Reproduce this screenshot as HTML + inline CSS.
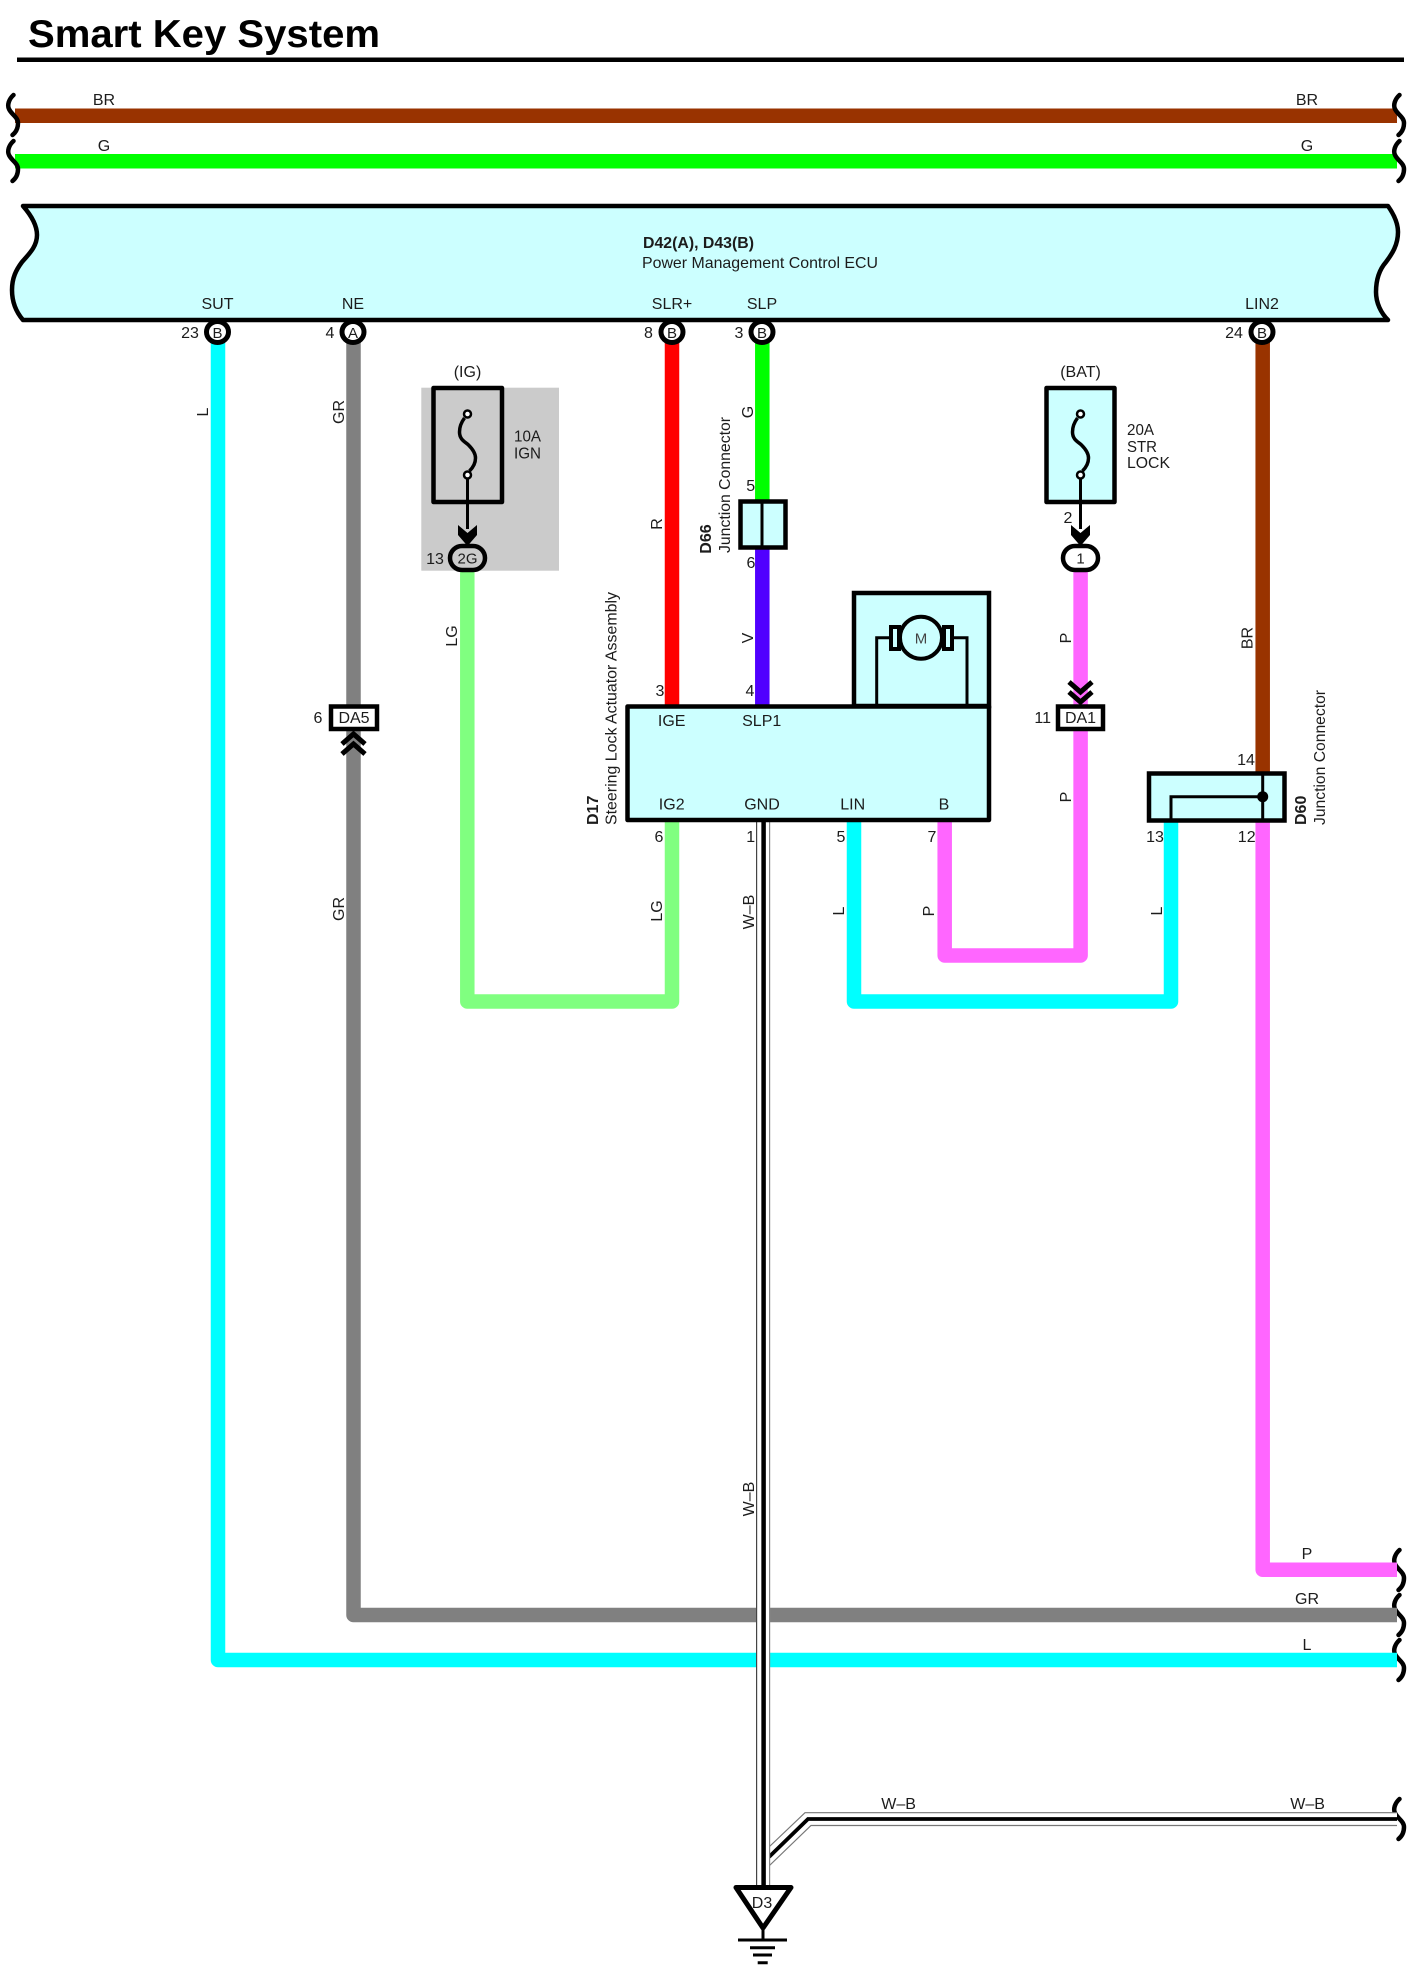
<!DOCTYPE html>
<html><head><meta charset="utf-8"><style>
html,body{margin:0;padding:0;background:#fff}
svg{display:block;filter:blur(.35px)}
text{font-family:"Liberation Sans",Arial,sans-serif;font-size:16px;fill:#1c1c1c;text-anchor:middle}
.b{font-weight:bold}
.s{text-anchor:start}
.w{fill:none;stroke-width:14.5;stroke-linejoin:round;stroke-linecap:butt}
.k{fill:none;stroke:#000;stroke-width:4.5;stroke-linejoin:round}
.t{fill:none;stroke:#000;stroke-width:3}
.q{fill:none;stroke:#000;stroke-width:4.5;stroke-linecap:round}
</style></head><body>
<svg width="1417" height="1980" viewBox="0 0 1417 1980" xmlns="http://www.w3.org/2000/svg">
<defs>
<path id="sq" d="M5.5,2 C1,6 -1,12 1,16 C3,21 10,24 10,30 C10,36 7,40 4.5,42"/>
<g id="fuse">
<path d="M-3,4 C-6,8 -8,13 -8,18 C-8,26 -2,28 1,31 C5,35 8,39 8,44 C8,50 5,54 2,57" fill="none" stroke="#000" stroke-width="3.5"/>
<circle cx="0" cy="0" r="3.5" fill="#fff" stroke="#000" stroke-width="2.5"/>
<circle cx="0" cy="61" r="3.5" fill="#fff" stroke="#000" stroke-width="2.5"/>
<path class="t" d="M0,65 V115"/>
<path d="M-9.5,111 L0,119 L9.5,111 V121 L0,132 L-9.5,121Z" fill="#000"/>
</g>
</defs>

<text class="b s" x="28" y="47" style="font-size:39px;fill:#000" textLength="352" lengthAdjust="spacingAndGlyphs">Smart Key System</text>
<rect x="17" y="57.5" width="1387" height="4.5" fill="#000"/>

<!-- top bus wires -->
<rect x="15" y="108.5" width="1382" height="14.5" fill="#993300"/>
<rect x="15" y="154" width="1382" height="14.5" fill="#00ff00"/>
<text x="104" y="105">BR</text><text x="1307" y="105">BR</text>
<text x="104" y="151">G</text><text x="1307" y="151">G</text>
<g class="q">
<use href="#sq" x="8" y="93"/><use href="#sq" x="8" y="139"/>
<use href="#sq" x="1394" y="93"/><use href="#sq" x="1394" y="139"/>
<use href="#sq" x="1394" y="1548"/><use href="#sq" x="1394" y="1593"/><use href="#sq" x="1394" y="1638"/>
<use href="#sq" x="1394" y="1797"/>
</g>

<!-- vertical / routed wires -->
<path class="w" stroke="#00ffff" d="M218,340 V1660 H1397"/>
<path class="w" stroke="#808080" d="M353.5,340 V1615 H1397"/>
<path class="w" stroke="#ff0000" d="M672,340 V706"/>
<path class="w" stroke="#00ff00" d="M762.3,340 V500"/>
<path class="w" stroke="#5000ff" d="M762.3,548 V706"/>
<path class="w" stroke="#993300" d="M1262.7,340 V773"/>
<path class="w" stroke="#80ff80" d="M467.3,570 V1001.5 H672 V820"/>
<path class="w" stroke="#00ffff" d="M854,820 V1001.5 H1171 V820"/>
<path class="w" stroke="#ff66ff" d="M944.7,820 V955.5 H1080.6 V570"/>
<path class="w" stroke="#ff66ff" d="M1262.7,820 V1569.7 H1397"/>

<!-- ground wire -->
<path d="M769,1847 L805,1812.7 H1397 V1825.5 H811 L769,1866Z" fill="#fff"/>
<path d="M769,1847 L805,1812.7 H1397 M1397,1825.5 H811 L769,1866" fill="none" stroke="#777" stroke-width="1.2"/>
<path d="M769,1857 L808,1819 H1397" fill="none" stroke="#000" stroke-width="3.8"/>
<rect x="756.6" y="822" width="13" height="1065" fill="#fff"/>
<path d="M756.6,822 V1887" stroke="#444" stroke-width="1.2" fill="none"/>
<path d="M769.6,822 V1887" stroke="#888" stroke-width="1.2" fill="none"/>
<path d="M763.6,822 V1887" stroke="#000" stroke-width="4.5" fill="none"/>

<!-- ECU -->
<path d="M23,206 H1388 C1395,216 1398,224 1398,232 C1398,245 1392,254 1386,262 C1379,270 1376,280 1376,292 C1376,303 1381,313 1388,320 H23 C17,313 12,303 12,290 C12,278 16,270 22,262 C30,253 37,246 37,235 C37,224 30,214 23,206Z" fill="#ccffff" stroke="#000" stroke-width="4.5" stroke-linejoin="round"/>
<text class="b s" x="643" y="248" textLength="111" lengthAdjust="spacingAndGlyphs">D42(A), D43(B)</text>
<text class="s" x="642" y="268" textLength="236" lengthAdjust="spacingAndGlyphs">Power Management Control ECU</text>
<text x="217.5" y="309">SUT</text><text x="353" y="309">NE</text><text x="672" y="309">SLR+</text><text x="762" y="309">SLP</text><text x="1262" y="309">LIN2</text>

<!-- pins -->
<g fill="#fff" stroke="#000" stroke-width="5">
<ellipse cx="217.5" cy="332" rx="11" ry="10.5"/><ellipse cx="353" cy="332" rx="11" ry="10.5"/><ellipse cx="672" cy="332" rx="11" ry="10.5"/><ellipse cx="762" cy="332" rx="11" ry="10.5"/><ellipse cx="1262" cy="332" rx="11" ry="10.5"/>
</g>
<text x="217.5" y="338" style="font-size:15px">B</text><text x="353" y="338" style="font-size:15px">A</text><text x="672" y="338" style="font-size:15px">B</text><text x="762" y="338" style="font-size:15px">B</text><text x="1262" y="338" style="font-size:15px">B</text>
<text x="190" y="338">23</text><text x="330" y="338">4</text><text x="648.5" y="338">8</text><text x="739" y="338">3</text><text x="1234" y="338">24</text>

<!-- IG fuse -->
<rect x="421.3" y="387.7" width="137.7" height="183" fill="#cbcbcb"/>
<rect x="433.5" y="388" width="68.5" height="114" class="k"/>
<use href="#fuse" x="467.5" y="414"/>
<rect x="450" y="546" width="35" height="24" rx="12" fill="#cbcbcb" stroke="#000" stroke-width="4.5"/>
<text x="467.5" y="563.5" style="font-size:15px">2G</text>
<text x="435" y="564">13</text>
<text x="467.5" y="377">(IG)</text>
<text class="s" x="514" y="441.5" textLength="27" lengthAdjust="spacingAndGlyphs">10A</text>
<text class="s" x="514" y="458.5" textLength="27" lengthAdjust="spacingAndGlyphs">IGN</text>

<!-- BAT fuse -->
<rect x="1046.5" y="388" width="68" height="114" fill="#ccffff" stroke="#000" stroke-width="4.5" stroke-linejoin="round"/>
<use href="#fuse" x="1080.5" y="414"/>
<rect x="1063" y="546" width="35" height="24" rx="12" fill="#fff" stroke="#000" stroke-width="4.5"/>
<text x="1080.5" y="563.5" style="font-size:15px">1</text>
<text x="1068" y="523">2</text>
<text x="1080.5" y="377">(BAT)</text>
<text class="s" x="1127" y="435" textLength="27" lengthAdjust="spacingAndGlyphs">20A</text>
<text class="s" x="1127" y="452" textLength="30" lengthAdjust="spacingAndGlyphs">STR</text>
<text class="s" x="1127" y="468" textLength="43" lengthAdjust="spacingAndGlyphs">LOCK</text>

<!-- D66 -->
<rect x="740.5" y="501.5" width="45" height="46" fill="#ccffff" stroke="#000" stroke-width="4.5"/>
<path d="M762,501 V548" stroke="#000" stroke-width="3"/>
<text x="750.7" y="491">5</text><text x="751" y="568">6</text>
<text transform="rotate(-90 730 485)" x="730" y="485" textLength="136" lengthAdjust="spacingAndGlyphs">Junction Connector</text>
<text class="b" transform="rotate(-90 711 539)" x="711" y="539">D66</text>

<!-- motor box + D17 -->
<rect x="854" y="593" width="135" height="113" fill="#ccffff" stroke="#000" stroke-width="4.5"/>
<path class="t" d="M876.7,706 V637.7 H890 M953,637.7 H967 V706"/>
<rect x="891" y="627" width="8" height="22" fill="#ccffff" stroke="#000" stroke-width="4"/>
<rect x="944" y="627" width="8" height="22" fill="#ccffff" stroke="#000" stroke-width="4"/>
<circle cx="921" cy="637.7" r="21" fill="#ccffff" stroke="#000" stroke-width="4"/>
<text x="921" y="643.5" style="font-size:15px;fill:#444">M</text>
<rect x="627.5" y="706.5" width="361.5" height="113.5" fill="#ccffff" stroke="#000" stroke-width="4.5" stroke-linejoin="round"/>
<text x="671.7" y="726">IGE</text><text x="761.7" y="726">SLP1</text>
<text x="671.7" y="809.5">IG2</text><text x="762" y="809.5">GND</text><text x="852.7" y="809.5">LIN</text><text x="944" y="809.5">B</text>
<text x="660" y="696">3</text><text x="750" y="696">4</text>
<text x="659" y="842">6</text><text x="750.7" y="842">1</text><text x="841" y="842">5</text><text x="932" y="842">7</text>
<text class="s" transform="rotate(-90 616.7 825)" x="616.7" y="825" textLength="233" lengthAdjust="spacingAndGlyphs">Steering Lock Actuator Assembly</text>
<text class="b s" transform="rotate(-90 598 825)" x="598" y="825">D17</text>

<!-- DA5 -->
<rect x="331" y="706.5" width="46" height="22.5" fill="#fff" stroke="#000" stroke-width="4.5"/>
<text x="354" y="723">DA5</text><text x="318" y="723">6</text>
<path d="M342,744 L353.5,734 L365,744 M342,754 L353.5,744 L365,754" fill="none" stroke="#000" stroke-width="5"/>

<!-- DA1 -->
<rect x="1058" y="706.5" width="45" height="22.5" fill="#fff" stroke="#000" stroke-width="4.5"/>
<text x="1080.5" y="723">DA1</text><text x="1042.7" y="723">11</text>
<path d="M1069,682 L1080.5,692 L1092,682 M1069,692 L1080.5,702 L1092,692" fill="none" stroke="#000" stroke-width="5"/>

<!-- D60 -->
<rect x="1149" y="773.5" width="135.5" height="47" fill="#ccffff" stroke="#000" stroke-width="4.5"/>
<path class="t" d="M1262.7,773 V821 M1262.7,796.7 H1171 V821"/>
<circle cx="1262.7" cy="796.7" r="5.5" fill="#000"/>
<text x="1246" y="765">14</text><text x="1155" y="842">13</text><text x="1246.7" y="842">12</text>
<text class="s" transform="rotate(-90 1325 825)" x="1325" y="825" textLength="135" lengthAdjust="spacingAndGlyphs">Junction Connector</text>
<text class="b s" transform="rotate(-90 1306 825)" x="1306" y="825">D60</text>

<!-- rotated wire labels -->
<text transform="rotate(-90 208 412)" x="208" y="412">L</text>
<text transform="rotate(-90 344 412)" x="344" y="412">GR</text>
<text transform="rotate(-90 344 909)" x="344" y="909">GR</text>
<text transform="rotate(-90 457 636)" x="457" y="636">LG</text>
<text transform="rotate(-90 662 524)" x="662" y="524">R</text>
<text transform="rotate(-90 753 412)" x="753" y="412">G</text>
<text transform="rotate(-90 753 638)" x="753" y="638">V</text>
<text transform="rotate(-90 1071 638)" x="1071" y="638">P</text>
<text transform="rotate(-90 1071 797)" x="1071" y="797">P</text>
<text transform="rotate(-90 1252.7 638)" x="1252.7" y="638">BR</text>
<text transform="rotate(-90 662 911)" x="662" y="911">LG</text>
<text transform="rotate(-90 754 912)" x="754" y="912">W&#8211;B</text>
<text transform="rotate(-90 754 1499)" x="754" y="1499">W&#8211;B</text>
<text transform="rotate(-90 844 911)" x="844" y="911">L</text>
<text transform="rotate(-90 934 911)" x="934" y="911">P</text>
<text transform="rotate(-90 1162 911)" x="1162" y="911">L</text>

<text x="1307" y="1559">P</text><text x="1307" y="1604">GR</text><text x="1307" y="1650">L</text>
<text x="898.6" y="1809">W&#8211;B</text><text x="1307.6" y="1809">W&#8211;B</text>

<!-- ground -->
<path d="M736,1887.5 H791 L763,1928Z" fill="#fff" stroke="#000" stroke-width="5" stroke-linejoin="round"/>
<text x="762" y="1908">D3</text>
<path d="M763,1928 V1940" fill="none" stroke="#000" stroke-width="3"/>
<path d="M738,1940 H787 M750,1947.7 H775 M753,1955 H772 M757.7,1962.7 H767.7" fill="none" stroke="#000" stroke-width="3"/>
</svg>
</body></html>
